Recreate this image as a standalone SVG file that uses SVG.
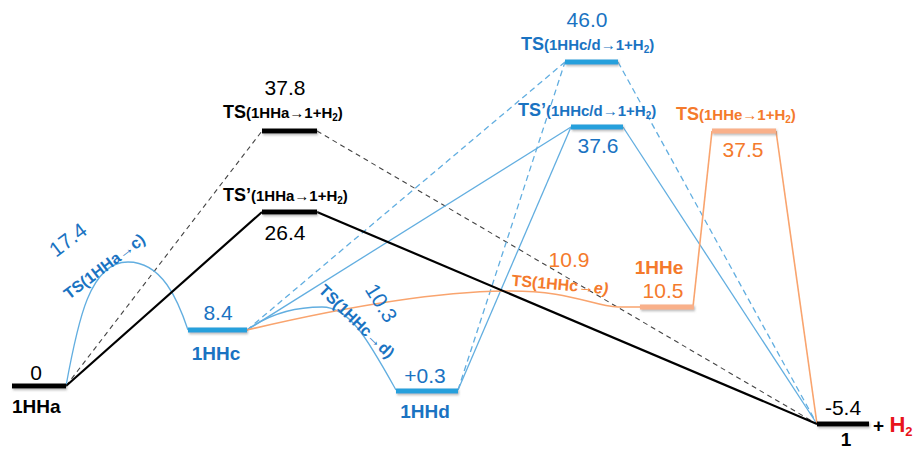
<svg xmlns="http://www.w3.org/2000/svg" width="913" height="449" viewBox="0 0 913 449">
<defs>
<filter id="sh" x="-10%" y="-60%" width="130%" height="260%">
<feDropShadow dx="1" dy="1.5" stdDeviation="0.8" flood-color="#777" flood-opacity="0.55"/>
</filter>
</defs>
<style>
text{font-family:"Liberation Sans",Arial,sans-serif}
.num{font-size:21px}
.nm{font-size:19px;font-weight:bold}
.ts{font-weight:bold;font-size:15px}
.ts .big{font-size:18px}
.sub{font-size:10px}
.k{fill:#000}
.b{fill:#1a73c2}
.o{fill:#f47a2c}
.bar{filter:url(#sh)}
.barK{fill:#000}
.barB{fill:#27a0dc}
.barO{fill:#f9b08a}
.lk{stroke:#000;stroke-width:2.2;fill:none}
.lkd{stroke:#444;stroke-width:1.1;stroke-dasharray:5 4;fill:none}
.lb{stroke:#62aee0;stroke-width:1.3;fill:none}
.lbd{stroke:#62aee0;stroke-width:1.3;stroke-dasharray:6 4;fill:none}
.lo{stroke:#f9a46e;stroke-width:1.6;fill:none}
</style>
<rect width="913" height="449" fill="#fff"/>
<g id="connectors">
<line class="lkd" x1="66" y1="386" x2="262" y2="131"/>
<line class="lkd" x1="317" y1="131" x2="817" y2="424"/>
<line class="lbd" x1="247" y1="330" x2="565" y2="62"/>
<line class="lbd" x1="458" y1="390" x2="565" y2="62"/>
<line class="lbd" x1="618" y1="62" x2="817" y2="424"/>
<line class="lb" x1="247" y1="330" x2="571" y2="127"/>
<line class="lb" x1="458" y1="390" x2="571" y2="127"/>
<line class="lb" x1="623" y1="127" x2="817" y2="424"/>
<path class="lb" d="M66,386 C78,320 90,262 128,262 C162,262 178,300 188,330"/>
<path class="lb" d="M247,330 C272,312 298,307 322,307 C350,307 368,340 396,390"/>
<path class="lo" d="M247,330 C340,308 430,292 505,291 C570,290 592,306 618,307 L640,307"/>
<line class="lo" x1="693" y1="307" x2="712" y2="131"/>
<line class="lo" x1="776" y1="131" x2="817" y2="424"/>
<line class="lk" x1="66" y1="386" x2="262" y2="212"/>
<line class="lk" x1="317" y1="212" x2="817" y2="424"/>
</g>
<g id="n-1HHa">
<rect class="bar barK" x="12" y="383.5" width="54" height="5"/>
<text class="num k" x="36" y="380" text-anchor="middle">0</text>
<text class="nm k" x="12" y="413">1HHa</text>
</g>
<g id="ts-1HHa-c">
<text class="num b" transform="translate(68,240) rotate(-37)" y="7" text-anchor="middle">17.4</text>
<text class="b" style="font-size:16px;font-weight:bold" transform="translate(104,266) rotate(-37)" y="6" text-anchor="middle">TS(1HHa→c)</text>
</g>
<g id="n-1HHc">
<rect class="bar barB" x="188" y="327.5" width="59" height="5"/>
<text class="num b" x="218" y="320" text-anchor="middle">8.4</text>
<text class="nm b" x="216" y="360" text-anchor="middle">1HHc</text>
</g>
<g id="ts-1HHa-1">
<rect class="bar barK" x="262" y="128.5" width="55" height="5"/>
<text class="num k" x="285" y="95" text-anchor="middle">37.8</text>
<text class="ts k" x="223" y="118"><tspan class="big">TS</tspan>(1HHa→1+H<tspan class="sub" dy="3">2</tspan><tspan dy="-3">)</tspan></text>
</g>
<g id="tsp-1HHa-1">
<rect class="bar barK" x="262" y="209.5" width="55" height="5"/>
<text class="ts k" x="223" y="201"><tspan class="big">TS’</tspan>(1HHa→1+H<tspan class="sub" dy="3">2</tspan><tspan dy="-3">)</tspan></text>
<text class="num k" x="285" y="240" text-anchor="middle">26.4</text>
</g>
<g id="ts-1HHc-d">
<text class="b" style="font-size:16px;font-weight:bold" transform="translate(357,321) rotate(44)" y="6" text-anchor="middle">TS(1HHc→d)</text>
<text class="num b" transform="translate(381,303) rotate(58)" y="7" text-anchor="middle">10.3</text>
</g>
<g id="n-1HHd">
<rect class="bar barB" x="396" y="388.5" width="62" height="5"/>
<text class="num b" x="425" y="383" text-anchor="middle">+0.3</text>
<text class="nm b" x="425" y="418" text-anchor="middle">1HHd</text>
</g>
<g id="ts-1HHcd-1">
<rect class="bar barB" x="565" y="59.5" width="53" height="5"/>
<text class="num b" x="587" y="27" text-anchor="middle">46.0</text>
<text class="ts b" x="521" y="50"><tspan class="big">TS</tspan>(1HHc/d→1+H<tspan class="sub" dy="3">2</tspan><tspan dy="-3">)</tspan></text>
</g>
<g id="tsp-1HHcd-1">
<rect class="bar barB" x="571" y="124.5" width="52" height="5"/>
<text class="ts b" x="518" y="116"><tspan class="big">TS’</tspan>(1HHc/d→1+H<tspan class="sub" dy="3">2</tspan><tspan dy="-3">)</tspan></text>
<text class="num b" x="598" y="153" text-anchor="middle">37.6</text>
</g>
<g id="ts-1HHc-e">
<text class="num o" x="569" y="267" text-anchor="middle">10.9</text>
<text class="o" style="font-size:16px;font-weight:bold" transform="translate(560,284) rotate(5)" y="6" text-anchor="middle">TS(1HHc→<tspan font-style="italic">e)</tspan></text>
</g>
<g id="n-1HHe">
<rect class="bar barO" x="640" y="304.5" width="54" height="5"/>
<text class="nm o" x="659" y="274" text-anchor="middle">1HHe</text>
<text class="num o" x="663" y="298" text-anchor="middle">10.5</text>
</g>
<g id="ts-1HHe-1">
<rect class="bar barO" x="712" y="128.5" width="64" height="5"/>
<text class="ts o" x="676" y="120"><tspan class="big">TS</tspan>(1HHe→1+H<tspan class="sub" dy="3">2</tspan><tspan dy="-3">)</tspan></text>
<text class="num o" x="743" y="157" text-anchor="middle">37.5</text>
</g>
<g id="n-1">
<rect class="bar barK" x="817" y="421.5" width="52" height="5"/>
<text class="num k" x="843" y="415" text-anchor="middle">-5.4</text>
<text class="nm k" x="846" y="446" text-anchor="middle">1</text>
<text x="873" y="432" style="font-weight:bold"><tspan class="k" style="font-size:19px">+ </tspan><tspan fill="#e8141b" style="font-size:22px">H</tspan><tspan fill="#e8141b" style="font-size:13px" dy="4">2</tspan></text>
</g>
</svg>
